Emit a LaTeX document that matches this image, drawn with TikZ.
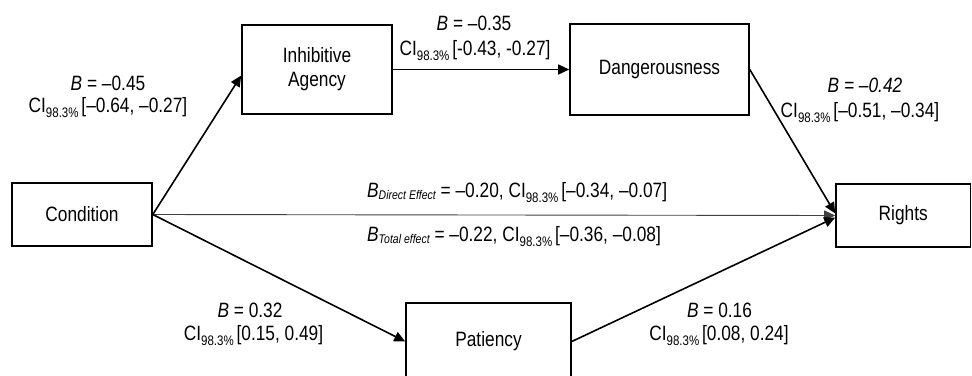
\documentclass[tikz,border=0pt]{standalone}
\usepackage{fontspec}
\usepackage{graphicx}
\setmainfont{Liberation Sans}
\usetikzlibrary{arrows.meta}
\newcommand{\mainsize}{\fontsize{17.3}{20}\selectfont}
\newcommand{\vs}[1]{\scalebox{1}[1.2]{#1}}
\newcommand{\Bv}{\textit{B}}
\newcommand{\CIs}{CI\raisebox{-4.5pt}{\fontsize{11.5}{12}\selectfont 98.3\%}\,}
\newcommand{\Bsub}[1]{\textit{B}\raisebox{-2pt}{\fontsize{10.5}{11}\selectfont\itshape #1}}
\begin{document}
\begin{tikzpicture}[x=1pt,y=-1pt,
  every node/.style={font=\mainsize, inner sep=0pt},
  box/.style={draw, line width=1.6pt, align=center},
  arr/.style={line width=1.6pt, -{Triangle[length=11pt,width=10pt]}},
  thinarr/.style={line width=0.9pt, draw=black!75, -{Triangle[length=11pt,width=10pt]}},
  lab/.style={anchor=base}]
\useasboundingbox (0,0) rectangle (972,375);
\clip (0,0) rectangle (972,375);
% boxes
\node[box, minimum width=150pt, minimum height=89pt] (ia) at (317,69.5) {\vs{\begin{tabular}{@{}c@{}}Inhibitive\\Agency\end{tabular}}};
\node[box, minimum width=179pt, minimum height=91pt] (dg) at (659.5,69.5) {\vs{Dangerousness}};
\node[box, minimum width=140pt, minimum height=63pt] (cond) at (82,214.5) {\vs{Condition}};
\node[box, minimum width=134.5pt, minimum height=63pt] (rights) at (903.25,215.5) {\vs{Rights}};
\node[box, minimum width=165pt, minimum height=77pt] (pat) at (488.5,341.5) {\vs{Patiency}};
% connectors
\draw[arr] (cond.east) -- ([yshift=-6pt]ia.west);
\draw[arr] (ia.east) -- (dg.west);
\draw[arr] (dg.east) -- ([yshift=2pt]rights.west);
\draw[thinarr] (cond.east) -- (rights.west);
\draw[arr] (cond.east) -- (pat.west);
\draw[arr] (pat.east) -- ([yshift=-2pt]rights.west);
% labels
\node[lab] (l1a) at (108,90) {\vs{\Bv{} = –0.45}};
\node[lab] (l1b) at (108,112) {\vs{\CIs[–0.64, –0.27]}};
\node[lab] (l2a) at (474,30) {\vs{\Bv{} = –0.35}};
\node[lab] (l2b) at (475,55) {\vs{\CIs[-0.43, -0.27]}};
\node[lab] (l3a) at (865,92) {\vs{\textit{B = –0.42}}};
\node[lab] (l3b) at (860,117) {\vs{\CIs[–0.51, –0.34]}};
\node[anchor=base west] (l4) at (367,197) {\vs{\Bsub{Direct Effect} = –0.20, \CIs[–0.34, –0.07]}};
\node[anchor=base west] (l5) at (367,241) {\vs{\Bsub{Total effect} = –0.22, \CIs[–0.36, –0.08]}};
\node[lab] (l6a) at (250,317) {\vs{\Bv{} = 0.32}};
\node[lab] (l6b) at (253.5,340) {\vs{\CIs[0.15, 0.49]}};
\node[lab] (l7a) at (719.5,317) {\vs{\Bv{} = 0.16}};
\node[lab] (l7b) at (719,340) {\vs{\CIs[0.08, 0.24]}};
\end{tikzpicture}
\end{document}
